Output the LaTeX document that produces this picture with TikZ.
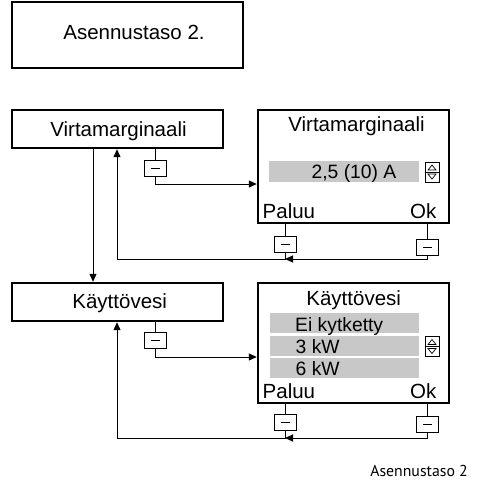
\documentclass[tikz,border=0pt]{standalone}
\usepackage{fontspec}
\setmainfont{Liberation Sans}
\newfontfamily\capfont{PT Sans}
\usetikzlibrary{arrows.meta}
\definecolor{bargray}{RGB}{200,200,200}
\begin{document}
\begin{tikzpicture}[x=1pt,y=-1pt,
  box/.style={draw,line width=2.4pt,rectangle,inner sep=0pt},
  txt/.style={inner sep=0pt,font=\fontsize{20.5}{24}\selectfont},
  itm/.style={inner sep=0pt,font=\fontsize{19.3}{23}\selectfont},
  bar/.style={fill=bargray,draw=none,rectangle,inner sep=0pt},
  minus/.style={draw,line width=0.8pt,rectangle,inner sep=0pt,minimum width=22pt,minimum height=16pt,fill=white,
    path picture={\draw[line width=0.9pt] ([xshift=-4.5pt]path picture bounding box.center) -- ([xshift=4.5pt]path picture bounding box.center);}},
  updown/.style={draw,line width=0.8pt,rectangle,inner sep=0pt,minimum width=14pt,minimum height=20pt},
  conn/.style={draw,line width=1pt},
  arr/.style={-{Triangle[length=8pt,width=7pt]}}]
\useasboundingbox (0,0) rectangle (477,483);

% top box
\node[box,minimum width=231pt,minimum height=66pt] (top) at (127.5,35) {};
\node[txt,anchor=base] (toptxt) at (134,39.5) {Asennustaso 2.};

% left menu boxes
\node[box,minimum width=211pt,minimum height=38pt] (V) at (117.5,129) {};
\node[txt,anchor=base] (Vtxt) at (118.5,136) {Virtamarginaali};
\node[box,minimum width=211pt,minimum height=38pt] (K) at (117.5,302) {};
\node[txt,anchor=base] (Ktxt) at (119.7,308.3) {Käyttövesi};

% screen 1
\node[box,minimum width=191pt,minimum height=113pt] (S1) at (353.5,166.5) {};
\node[txt,anchor=base] (S1t) at (356.5,131.7) {Virtamarginaali};
\node[bar,minimum width=150pt,minimum height=21pt] (b1) at (344,171.5) {};
\node[itm,anchor=base] (b1t) at (354,178.3) {2,5 (10) A};
\node[updown] (w1) at (432,172) {};
\node[txt,anchor=base west] (p1) at (262.5,218.3) {Paluu};
\node[txt,anchor=base east] (o1) at (436.5,218.3) {Ok};

% screen 2
\node[box,minimum width=191pt,minimum height=120pt] (S2) at (353.5,343) {};
\node[txt,anchor=base] (S2t) at (353.7,305) {Käyttövesi};
\node[bar,minimum width=149pt,minimum height=20pt] (b2) at (344.5,323) {};
\node[bar,minimum width=149pt,minimum height=20pt] (b3) at (344.5,346) {};
\node[bar,minimum width=149pt,minimum height=20pt] (b4) at (344.5,368) {};
\node[itm,anchor=base west] (b2t) at (295,331.7) {Ei kytketty};
\node[itm,anchor=base west] (b3t) at (295.5,353.3) {3 kW};
\node[itm,anchor=base west] (b4t) at (295.5,375) {6 kW};
\node[updown] (w2) at (432,346.5) {};
\node[txt,anchor=base west] (p2) at (262.5,398.3) {Paluu};
\node[txt,anchor=base east] (o2) at (436.5,398.3) {Ok};

% up/down widgets
\foreach \w in {w1,w2}{
  \draw[line width=0.8pt] (\w.west) -- (\w.east);
  \draw[line width=0.7pt] ([shift={(-4pt,-2pt)}]\w.center) -- ([shift={(4pt,-2pt)}]\w.center) -- ([shift={(0pt,-7pt)}]\w.center) -- cycle;
  \draw[line width=0.7pt] ([shift={(-4pt,2pt)}]\w.center) -- ([shift={(4pt,2pt)}]\w.center) -- ([shift={(0pt,7pt)}]\w.center) -- cycle;
}

% minus buttons
\node[minus] (m1) at (155,168) {};
\node[minus] (m2) at (285,244) {};
\node[minus] (m3) at (427.5,247.5) {};
\node[minus] (m4) at (155,340) {};
\node[minus] (m5) at (285,422.5) {};
\node[minus] (m6) at (427.5,424.5) {};

% helper coordinates
\coordinate (cA) at (93,0);
\coordinate (cB) at (117,0);
\coordinate (r1) at (0,184);
\coordinate (r2) at (0,357);
\coordinate (ret1) at (0,259);
\coordinate (ret2) at (0,438);

% connectors
\draw[conn,arr] (V.south -| cA) -- (K.north -| cA);

\draw[conn] (V.south -| m1) -- (m1.north);
\draw[conn,arr] (m1.south) |- (S1.west |- r1);
\draw[conn] (S1.south -| m3) -- (m3.north);
\draw[conn,arr] (m3.south) |- (ret1 -| m2);
\draw[conn] (S1.south -| m2) -- (m2.north);
\draw[conn,arr] (m2.south) -- (ret1 -| m2) -| (V.south -| cB);

\draw[conn] (K.south -| m4) -- (m4.north);
\draw[conn,arr] (m4.south) |- (S2.west |- r2);
\draw[conn] (S2.south -| m6) -- (m6.north);
\draw[conn,arr] (m6.south) |- (ret2 -| m5);
\draw[conn] (S2.south -| m5) -- (m5.north);
\draw[conn,arr] (m5.south) -- (ret2 -| m5) -| (K.south -| cB);

% caption
\node[inner sep=0pt,anchor=base east,font=\capfont\fontsize{15.8}{19}\selectfont] (cap) at (468,476) {Asennustaso 2};
\end{tikzpicture}
\end{document}
